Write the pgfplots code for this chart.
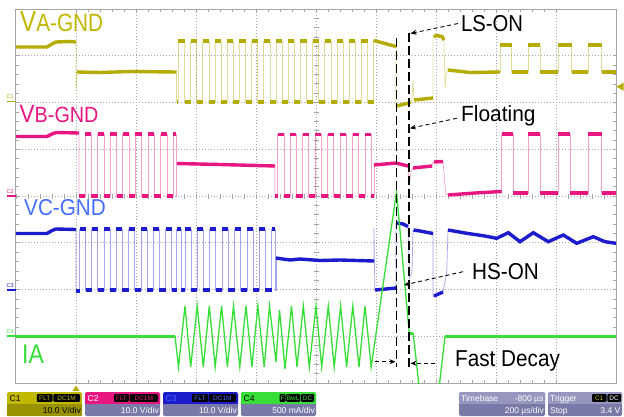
\documentclass[border=0pt]{standalone}
\usepackage{graphicx}
\usepackage{pgfplots}
\pgfplotsset{compat=1.18}
\usepackage{pgfplotstable}
\usepackage{fontspec}
\setmainfont{Liberation Sans}
\usetikzlibrary{arrows.meta}
\definecolor{cA}{RGB}{180,172,0}
\definecolor{cAt}{RGB}{192,184,0}
\definecolor{cB}{RGB}{232,22,128}
\definecolor{cC}{RGB}{28,28,205}
\definecolor{cCt}{RGB}{70,110,255}
\definecolor{cD}{RGB}{55,222,55}
\definecolor{slate}{RGB}{122,122,168}
\definecolor{lav}{RGB}{150,150,190}
\definecolor{gridc}{RGB}{165,165,165}

% ---- step tables: x = time (px), y = screen level (px) ----
\pgfplotstableread{
x y
176.5 102
178.3 41
184.5 102
190.5 41
196.7 102
202.7 41
208.9 102
214.9 41
221.1 102
227.1 41
233.3 102
239.3 41
245.5 102
251.5 41
257.7 102
263.7 41
269.9 102
275.9 41
282.1 102
288.1 41
294.3 102
300.3 41
306.5 102
312.5 41
318.7 102
324.7 41
330.9 102
336.9 41
343.1 102
349.1 41
355.3 102
361.3 41
367.5 102
373.5 41
}\Aone
\pgfplotstableread{
x y
500 72
500 45
511.7 72
528.3 45
540 72
558.3 45
571.7 72
588.3 45
601.7 72
616 72
}\Atwo
\pgfplotstableread{
x y
79 196
85 134
91.3 196
97.6 134
103.9 196
110.2 134
116.5 196
122.8 134
129.1 196
135.4 134
141.7 196
148 134
154.3 196
160.6 134
166.9 196
173.2 134
176 196
176.8 164
}\Bone
\pgfplotstableread{
x y
275 196
277.7 134.5
283.9 196
290.2 134.5
296.4 196
302.6 134.5
308.8 196
315.1 134.5
321.3 196
327.5 134.5
333.7 196
340.0 134.5
346.2 196
352.5 134.5
358.7 196
364.9 134.5
371.1 196
374 165
}\Btwo
\pgfplotstableread{
x y
501.7 191.5
501.7 134
513.3 193
528.3 134
540 193
558.3 134
570 193
588.3 134
601.7 193
616 193
}\Bthree
\pgfplotstableread{
x y
76 291
79.5 229
85.5 290
91.8 229
97.8 290
104.1 229
110.1 290
116.4 229
122.4 290
128.7 229
134.7 290
141 229
147 290
153.3 229
159.3 290
165.6 229
171.6 290
176.5 229
181 290
184.9 229
190.9 290
197.3 229
203.3 290
209.7 229
215.7 290
222.1 229
228.1 290
234.5 229
240.5 290
246.9 229
252.9 290
259.3 229
265.3 290
271.7 229
275 290
276 259
}\Cone

\tikzset{
  thinA/.style={cA, line width=0.7pt, opacity=0.4},
  thickA/.style={cA, line width=3.4pt},
  thinB/.style={cB, line width=0.7pt, opacity=0.4},
  thickB/.style={cB, line width=3.4pt},
  thinC/.style={cC, line width=0.7pt, opacity=0.4},
  thickC/.style={cC, line width=3.4pt},
}

\begin{document}
\begin{tikzpicture}
\useasboundingbox (0,0) rectangle (624pt,416pt);
\fill[white] (0,0) rectangle (624pt,416pt);

% centre-line ticks (screen coordinates, px)
\begin{scope}[yshift=416pt, x=1pt, y=-1pt]
\foreach \i in {0,...,50} \draw[gridc, line width=0.6pt] ({16+12*\i},193.5)--({16+12*\i},198.5);
\foreach \j in {0,...,40} \draw[gridc, line width=0.6pt] (313.5,{9+9.35*\j})--(318.5,{9+9.35*\j});
\end{scope}

\begin{axis}[
  at={(16pt,33pt)}, anchor=south west,
  width=600pt, height=374pt, scale only axis,
  xmin=16, xmax=616, ymin=9, ymax=383, y dir=reverse,
  xtick={76,136,...,556},
  ytick={55.75,102.5,149.25,196,242.75,289.5,336.25},
  minor x tick num=4, minor y tick num=4,
  xticklabels={}, yticklabels={},
  tick align=inside, tick pos=both,
  major tick length=3pt, minor tick length=3pt,
  tick style={gridc, line width=0.6pt},
  grid=major,
  major grid style={gridc, line width=0.7pt, dash pattern=on 0.8pt off 2.2pt},
  axis line style={gridc, line width=1pt},
  unbounded coords=jump,
]
% ---------- C1 : VA-GND ----------
\addplot[thinA] coordinates {(16,47)(47,47)(52,44)(56,42)(70,41.5)(76,42)(76,90)(77,72)(176.5,72)(176.5,102)};
\addplot[thickA] coordinates {(16,47)(47,47)(52,44)(56,42)(70,41.5)(76,42) (nan,nan) (77,72)(100,72.5)(130,71.5)(176.5,72)};
\addplot[thinA, const plot mark left] table {\Aone};
\addplot[thickA] coordinates {(176.5,102)(178.3,102)(nan,nan)(178.3,41)(184.5,41)(nan,nan)(184.5,102)(190.5,102)(nan,nan)(190.5,41)(196.7,41)(nan,nan)(196.7,102)(202.7,102)(nan,nan)(202.7,41)(208.9,41)(nan,nan)(208.9,102)(214.9,102)(nan,nan)(214.9,41)(221.1,41)(nan,nan)(221.1,102)(227.1,102)(nan,nan)(227.1,41)(233.3,41)(nan,nan)(233.3,102)(239.3,102)(nan,nan)(239.3,41)(245.5,41)(nan,nan)(245.5,102)(251.5,102)(nan,nan)(251.5,41)(257.7,41)(nan,nan)(257.7,102)(263.7,102)(nan,nan)(263.7,41)(269.9,41)(nan,nan)(269.9,102)(275.9,102)(nan,nan)(275.9,41)(282.1,41)(nan,nan)(282.1,102)(288.1,102)(nan,nan)(288.1,41)(294.3,41)(nan,nan)(294.3,102)(300.3,102)(nan,nan)(300.3,41)(306.5,41)(nan,nan)(306.5,102)(312.5,102)(nan,nan)(312.5,41)(318.7,41)(nan,nan)(318.7,102)(324.7,102)(nan,nan)(324.7,41)(330.9,41)(nan,nan)(330.9,102)(336.9,102)(nan,nan)(336.9,41)(343.1,41)(nan,nan)(343.1,102)(349.1,102)(nan,nan)(349.1,41)(355.3,41)(nan,nan)(355.3,102)(361.3,102)(nan,nan)(361.3,41)(367.5,41)(nan,nan)(367.5,102)(373.5,102)};
\addplot[thinA] coordinates {(373.5,41)(385,43.5)(396,46.5)(396,106)(410,102.5)(412,100)(413,80)(414,100)(433,98)(433,38)(436,35.5)(442,36.5)(444,40)(445,88)(447,68)(450,71.5)(500,72)};
\addplot[thickA] coordinates {(373.5,40.5)(385,43.5)(396,46.5) (nan,nan) (396.5,106)(411,102.5) (nan,nan) (414,100)(433,98) (nan,nan) (434,37)(436,35.5)(442,36.5)(444,40) (nan,nan) (448,70)(470,72.5)(500,72)};
\addplot[thinA, const plot mark left] table {\Atwo};
\addplot[thickA] coordinates {(500,45)(511.7,45)(nan,nan)(511.7,72)(528.3,72)(nan,nan)(528.3,45)(540,45)(nan,nan)(540,72)(558.3,72)(nan,nan)(558.3,45)(571.7,45)(nan,nan)(571.7,72)(588.3,72)(nan,nan)(588.3,45)(601.7,45)(nan,nan)(601.7,72)(616,72)};
% ---------- C2 : VB-GND ----------
\addplot[thinB] coordinates {(16,136.5)(47,136.5)(52,134)(56,132.5)(79,133)(79,196)};
\addplot[thickB] coordinates {(16,136.5)(47,136.5)(52,134)(56,132.5)(79,133)};
\addplot[thinB, const plot mark left] table {\Bone};
\addplot[thickB] coordinates {(79,196)(85,196)(nan,nan)(85,134)(91.3,134)(nan,nan)(91.3,196)(97.6,196)(nan,nan)(97.6,134)(103.9,134)(nan,nan)(103.9,196)(110.2,196)(nan,nan)(110.2,134)(116.5,134)(nan,nan)(116.5,196)(122.8,196)(nan,nan)(122.8,134)(129.1,134)(nan,nan)(129.1,196)(135.4,196)(nan,nan)(135.4,134)(141.7,134)(nan,nan)(141.7,196)(148,196)(nan,nan)(148,134)(154.3,134)(nan,nan)(154.3,196)(160.6,196)(nan,nan)(160.6,134)(166.9,134)(nan,nan)(166.9,196)(173.2,196)(nan,nan)(173.2,134)(176,134)};
\addplot[thinB] coordinates {(176.8,164)(220,164.5)(275,166)(275,196)};
\addplot[thickB] coordinates {(176.8,163.5)(220,164.5)(275,166)};
\addplot[thinB, const plot mark left] table {\Btwo};
\addplot[thickB] coordinates {(275,196)(277.7,196)(nan,nan)(277.7,134.5)(283.9,134.5)(nan,nan)(283.9,196)(290.2,196)(nan,nan)(290.2,134.5)(296.4,134.5)(nan,nan)(296.4,196)(302.6,196)(nan,nan)(302.6,134.5)(308.8,134.5)(nan,nan)(308.8,196)(315.1,196)(nan,nan)(315.1,134.5)(321.3,134.5)(nan,nan)(321.3,196)(327.5,196)(nan,nan)(327.5,134.5)(333.7,134.5)(nan,nan)(333.7,196)(340,196)(nan,nan)(340,134.5)(346.2,134.5)(nan,nan)(346.2,196)(352.5,196)(nan,nan)(352.5,134.5)(358.7,134.5)(nan,nan)(358.7,196)(364.9,196)(nan,nan)(364.9,134.5)(371.1,134.5)(nan,nan)(371.1,196)(374,196)};
\addplot[thinB] coordinates {(374,165)(396,163)(408,166)(409,186)(411,172)(413,168)(432,166)(433,162)(443,161.5)(445,185)(446,194)(448,195)(475,193)(501.7,191.5)};
\addplot[thickB] coordinates {(374,165)(396,163)(408,166) (nan,nan) (413,168)(432,166) (nan,nan) (434,162)(443,161.5) (nan,nan) (448,195)(475,193)(501.7,191.5)};
\addplot[thinB, const plot mark left] table {\Bthree};
\addplot[thickB] coordinates {(501.7,134)(513.3,134)(nan,nan)(513.3,193)(528.3,193)(nan,nan)(528.3,134)(540,134)(nan,nan)(540,193)(558.3,193)(nan,nan)(558.3,134)(570,134)(nan,nan)(570,193)(588.3,193)(nan,nan)(588.3,134)(601.7,134)(nan,nan)(601.7,193)(616,193)};
% ---------- C3 : VC-GND ----------
\addplot[thinC] coordinates {(16,233.5)(47,233.5)(52,230.5)(56,229)(76,229.5)(76,291)};
\addplot[thickC] coordinates {(16,233.5)(47,233.5)(52,230.5)(56,229)(76,229.5)};
\addplot[thinC, const plot mark left] table {\Cone};
\addplot[thickC] coordinates {(76,291)(79.5,291)(nan,nan)(79.5,229)(85.5,229)(nan,nan)(85.5,290)(91.8,290)(nan,nan)(91.8,229)(97.8,229)(nan,nan)(97.8,290)(104.1,290)(nan,nan)(104.1,229)(110.1,229)(nan,nan)(110.1,290)(116.4,290)(nan,nan)(116.4,229)(122.4,229)(nan,nan)(122.4,290)(128.7,290)(nan,nan)(128.7,229)(134.7,229)(nan,nan)(134.7,290)(141,290)(nan,nan)(141,229)(147,229)(nan,nan)(147,290)(153.3,290)(nan,nan)(153.3,229)(159.3,229)(nan,nan)(159.3,290)(165.6,290)(nan,nan)(165.6,229)(171.6,229)(nan,nan)(171.6,290)(176.5,290)(nan,nan)(176.5,229)(181,229)(nan,nan)(181,290)(184.9,290)(nan,nan)(184.9,229)(190.9,229)(nan,nan)(190.9,290)(197.3,290)(nan,nan)(197.3,229)(203.3,229)(nan,nan)(203.3,290)(209.7,290)(nan,nan)(209.7,229)(215.7,229)(nan,nan)(215.7,290)(222.1,290)(nan,nan)(222.1,229)(228.1,229)(nan,nan)(228.1,290)(234.5,290)(nan,nan)(234.5,229)(240.5,229)(nan,nan)(240.5,290)(246.9,290)(nan,nan)(246.9,229)(252.9,229)(nan,nan)(252.9,290)(259.3,290)(nan,nan)(259.3,229)(265.3,229)(nan,nan)(265.3,290)(271.7,290)(nan,nan)(271.7,229)(275,229)};
\addplot[thinC] coordinates {(276,259)(374,261)(374,228)(374.8,290)(396,288)(396,223)(408,226.5)(409.5,278)(412,272)(413,230)(433,233)(433,296.5)(443,292)(446.7,273)(448,230)};
\addplot[thickC] coordinates {(276,258)(290,260)(300,259)(320,260.5)(340,260)(374,261) (nan,nan) (375,290)(396,288) (nan,nan) (396.5,223)(403,224)(408,226.5) (nan,nan) (413.5,230)(420,231)(433,233.5) (nan,nan) (434,296)(443,292) (nan,nan) (448,230)(466.7,233.3)(485,236)(496.7,238.3)(508.3,232.7)(520,241.7)(533.3,232.7)(548.3,241.7)(563.3,235)(576.7,243.3)(593.3,236.7)(605,241.7)(616,243.3)};
% ---------- C4 : IA ----------
\addplot[cD, line width=3pt] coordinates {(16,336)(175,336)};
\addplot[cD, line width=3pt] coordinates {(445,336)(616,336)};
\addplot[cD, line width=2.6pt] coordinates {(409.3,333.5)(413.3,333.5)};
\addplot[cD, line width=1.3pt] coordinates {(175,336)(178.5,367)(185,306)(190.7,367)(197.2,306)(203.3,367)(209.3,306)(215.2,367)(221.6,306)(227.4,367)(233.5,306)(239.8,367)(246,306)(251.9,367)(257.8,306)(264.2,367)(269.5,306)(276,362)(279.5,310)(285,369)(291.5,306)(297,367)(303.3,306)(309.3,367)(316,306)(321.7,367)(328.3,306)(334.2,367)(340.6,306)(346.6,367)(352.8,306)(359,367)(365,306)(371.2,367)(396.5,192)(409.3,333.5)(413.3,333.5)(420.5,400)(437.7,400)(445,336)};
\end{axis}

\begin{scope}[yshift=416pt, x=1pt, y=-1pt]
% annotations
\draw[black, line width=1.8pt, dash pattern=on 9pt off 4pt] (396.5,38)--(396.5,367);
\draw[black, line width=1.8pt, dash pattern=on 9pt off 4pt] (409,33)--(409,367);
\tikzset{ann/.style={black, line width=0.9pt, dash pattern=on 4pt off 3pt, -{Stealth[length=6pt,width=5pt]}}}
\draw[ann] (458,23.5)--(410.5,33.5);
\draw[ann] (456.7,118.3)--(410,128.3);
\draw[ann] (463,271.7)--(404,285);
\draw[ann] (375,361.7)--(395.5,361.7);
\draw[ann] (435,363.3)--(410.5,363.3);
\node[anchor=base west, inner sep=0] at (461,31.7) {\scalebox{0.88}[1]{\fontsize{23}{23}\selectfont LS-ON}};
\node[anchor=base west, inner sep=0] at (461,121.7) {\scalebox{0.95}[1]{\fontsize{22}{22}\selectfont Floating}};
\node[anchor=base west, inner sep=0] at (472,279.3) {\scalebox{0.9}[1]{\fontsize{23}{23}\selectfont HS-ON}};
\node[anchor=base west, inner sep=0] at (455,366.7) {\scalebox{0.9}[1]{\fontsize{23}{23}\selectfont Fast Decay}};
% channel labels
\node[anchor=base west, inner sep=0, text=cAt] at (20,31.7) {\scalebox{0.83}[1]{\fontsize{29}{29}\selectfont V\fontsize{25}{25}\selectfont A-GND}};
\node[anchor=base west, inner sep=0, text=cB] at (19.5,122.7) {\scalebox{0.9}[1]{\fontsize{25}{25}\selectfont V\fontsize{22}{22}\selectfont B-GND}};
\node[anchor=base west, inner sep=0, text=cCt] at (24,215) {\scalebox{0.9}[1]{\fontsize{23}{23}\selectfont VC-GND}};
\node[anchor=base west, inner sep=0, text=cD] at (22,363.3) {\scalebox{0.85}[1]{\fontsize{27}{27}\selectfont IA}};
% channel ground markers
\foreach \yy/\cc/\tt in {101.7/cA/C1, 196/cB/C2, 290/cC/C3, 336/cD/C4}{
  \draw[\cc, line width=1.6pt] (7,\yy)--(16,\yy);
  \node[anchor=base west, inner sep=0, text=\cc, font=\fontsize{5.5}{5.5}\selectfont] at (6.5,\yy-3) {\tt};
}
% trigger markers
\fill[cA] (616.5,86.7)--(623.5,82.7)--(623.5,90.7)--cycle;
\fill[cA] (76,385.5)--(72.5,391)--(79.5,391)--cycle;
% ---- bottom panels ----
\tikzset{pt/.style={anchor=base west, inner sep=0, font=\fontsize{8.5}{8.5}\selectfont},
         pr/.style={anchor=base east, inner sep=0, font=\fontsize{8.5}{8.5}\selectfont},
         bx/.style={fill=black, rounded corners=1pt}}
% C1
\fill[cAt, rounded corners=1.5pt] (7,392) rectangle (82,416);
\fill[cA!85!black] (7,403.5) rectangle (82,416);
\node[pt, text=black] at (9.5,401) {C1};
\fill[bx] (36.8,394) rectangle (52.6,401.8);
\fill[bx] (53.4,394) rectangle (80,401.8);
\node[anchor=base, inner sep=0, text=cAt, font=\fontsize{6.5}{6.5}\selectfont] at (44.7,400.3) {FLT};
\node[anchor=base, inner sep=0, text=cAt, font=\fontsize{6.5}{6.5}\selectfont] at (66.7,400.3) {DC1M};
\node[pr, text=black] at (81,413.5) {10.0 V/div};
% C2
\fill[slate, rounded corners=1.5pt] (85,392) rectangle (160,416);
\fill[cB, rounded corners=1.5pt] (85,392) rectangle (160,403.5);
\fill[cB] (85,398) rectangle (160,403.5);
\node[pt, text=white] at (87.5,401) {C2};
\fill[bx] (114,394) rectangle (128.8,401.8);
\fill[bx] (129.6,394) rectangle (158,401.8);
\node[anchor=base, inner sep=0, text=cB, font=\fontsize{6.5}{6.5}\selectfont] at (121.4,400.3) {FLT};
\node[anchor=base, inner sep=0, text=cB, font=\fontsize{6.5}{6.5}\selectfont] at (143.8,400.3) {DC1M};
\node[pr, text=white] at (159,413.5) {10.0 V/div};
% C3
\fill[slate, rounded corners=1.5pt] (163,392) rectangle (238,416);
\fill[cC, rounded corners=1.5pt] (163,392) rectangle (238,403.5);
\fill[cC] (163,398) rectangle (238,403.5);
\node[pt, text=cCt] at (165.5,401) {C3};
\fill[bx] (192,394) rectangle (208,401.8);
\fill[bx] (208.8,394) rectangle (236,401.8);
\node[anchor=base, inner sep=0, text=cCt, font=\fontsize{6.5}{6.5}\selectfont] at (200,400.3) {FLT};
\node[anchor=base, inner sep=0, text=cCt, font=\fontsize{6.5}{6.5}\selectfont] at (222.4,400.3) {DC1M};
\node[pr, text=white] at (237,413.5) {10.0 V/div};
% C4
\fill[slate, rounded corners=1.5pt] (241,392) rectangle (316,416);
\fill[cD, rounded corners=1.5pt] (241,392) rectangle (316,403.5);
\fill[cD] (241,398) rectangle (316,403.5);
\node[pt, text=black] at (243.5,401) {C4};
\fill[bx] (279.5,394) rectangle (285.5,401.8);
\fill[bx] (286.2,394) rectangle (300.3,401.8);
\fill[bx] (301,394) rectangle (314,401.8);
\node[anchor=base, inner sep=0, text=cD, font=\fontsize{6.5}{6.5}\selectfont] at (282.5,400.3) {F};
\node[anchor=base, inner sep=0, text=cD, font=\fontsize{6.5}{6.5}\selectfont] at (293.2,400.3) {BwL};
\node[anchor=base, inner sep=0, text=cD, font=\fontsize{6.5}{6.5}\selectfont] at (307.5,400.3) {DC};
\node[pr, text=white] at (315,413.5) {500 mA/div};
% Timebase
\fill[slate, rounded corners=1.5pt] (459,392) rectangle (545,416);
\fill[lav, rounded corners=1.5pt] (459,392) rectangle (545,403.5);
\fill[lav] (459,398) rectangle (545,403.5);
\node[pt, text=white] at (461,401) {Timebase};
\node[pr, text=white] at (543.5,401) {-800 µs};
\node[pr, text=white] at (544,413.5) {200 µs/div};
% Trigger
\fill[slate, rounded corners=1.5pt] (548,392) rectangle (622,416);
\fill[lav, rounded corners=1.5pt] (548,392) rectangle (622,403.5);
\fill[lav] (548,398) rectangle (622,403.5);
\node[pt, text=white] at (550,401) {Trigger};
\fill[bx] (592,394) rectangle (606.5,401.8);
\fill[bx] (607.3,394) rectangle (621,401.8);
\node[anchor=base, inner sep=0, text=cAt, font=\fontsize{6.5}{6.5}\selectfont] at (599.2,400.3) {C1};
\node[anchor=base, inner sep=0, text=white, font=\fontsize{6.5}{6.5}\selectfont] at (614.1,400.3) {DC};
\node[pt, text=white] at (550,413.5) {Stop};
\node[pr, text=white] at (620.5,413.5) {3.4 V};
\end{scope}
\end{tikzpicture}
\end{document}
